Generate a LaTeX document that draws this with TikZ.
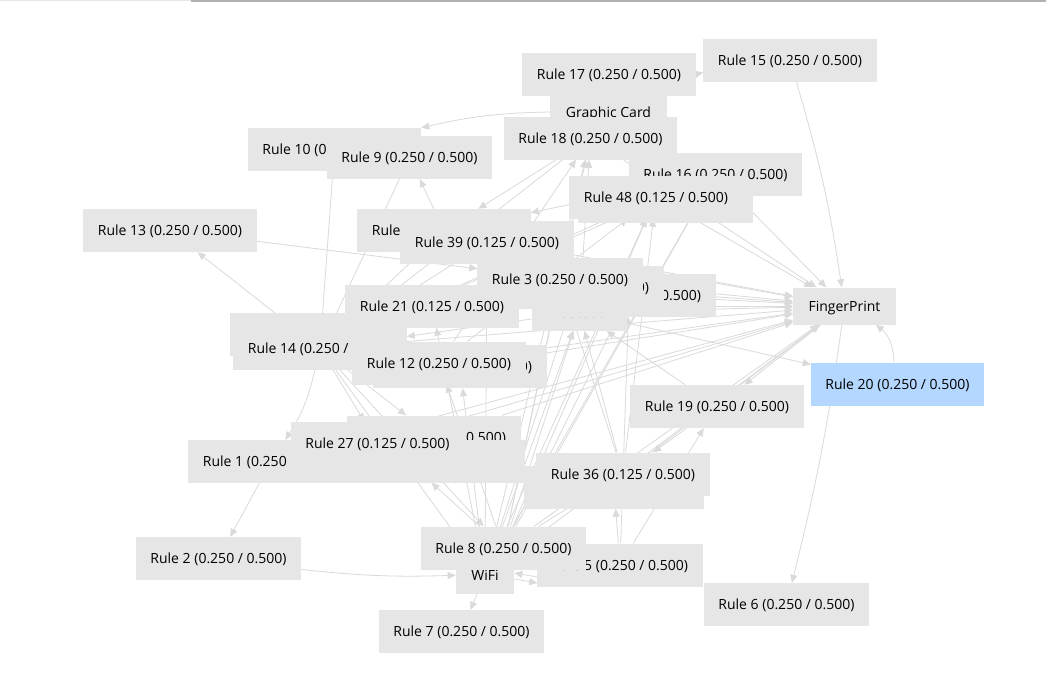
\documentclass[tikz,border=0pt]{standalone}
\usepackage{fontspec}
\setmainfont{Open Sans}
\usetikzlibrary{arrows.meta}
\definecolor{boxc}{HTML}{E6E6E6}
\definecolor{edgec}{HTML}{DADADA}
\definecolor{selc}{HTML}{B3D7FF}
\definecolor{txt}{HTML}{000000}
\pgfdeclarelayer{bg}
\pgfdeclarelayer{edges}
\pgfsetlayers{bg,edges,main}
\tikzset{
  rule/.style={fill=boxc, inner xsep=14.5pt, inner ysep=0pt, minimum height=43pt,
    text height=10pt, text depth=0pt, font=\fontsize{14}{16}\selectfont, text=txt},
  dev/.style={rule, minimum height=37pt, inner xsep=15.5pt},
  sel/.style={rule, fill=selc},
  e/.style={draw=edgec, line width=0.8pt, -{Triangle[length=8pt,width=7pt,fill=edgec]}}
}
\begin{document}
\begin{tikzpicture}[x=1pt,y=-1pt]
\useasboundingbox (0,0) rectangle (1046,699);
\begin{pgfonlayer}{bg}
\fill[white] (0,0) rectangle (1046,699);
\draw[draw=boxc, line width=1.2pt] (0,0.6) -- (191,0.6);
\draw[draw=black!30, line width=1.5pt] (191,0.75) -- (1046,0.75);
\end{pgfonlayer}

% nodes, back to front
\node[rule] (r10) at (334.5,149.5) {Rule 10 (0.250 / 0.500)};
\node[rule] (r9) at (409.5,157.5) {Rule 9 (0.250 / 0.500)};
\node[dev] (gc) at (608.5,112) {Graphic Card};
\node[rule] (r17) at (609,74) {Rule 17 (0.250 / 0.500)};
\node[rule] (r18) at (590.5,138) {Rule 18 (0.250 / 0.500)};
\node[rule] (r15) at (790,60.5) {Rule 15 (0.250 / 0.500)};
\node[rule] (r16) at (715.5,174.5) {Rule 16 (0.250 / 0.500)};
\node[rule, minimum width=175pt] (r48x) at (665,201) {};
\node[rule] (r48) at (656,197) {Rule 48 (0.125 / 0.500)};
\node[rule] (r13) at (170,230.5) {Rule 13 (0.250 / 0.500)};
\node[rule] (r11) at (444,230.5) {Rule 11 (0.250 / 0.500)};
\node[rule] (r39) at (487,242.5) {Rule 39 (0.125 / 0.500)};
\node[dev] (bt) at (579.5,312.3) {Bluetooth};
\node[rule] (r40) at (629,295) {Rule 40 (0.125 / 0.500)};
\node[rule] (r38) at (577,287) {Rule 38 (0.125 / 0.500)};
\node[rule] (r3) at (560,279) {Rule 3 (0.250 / 0.500)};
\node[rule] (r21) at (432,306) {Rule 21 (0.125 / 0.500)};
\node[rule, minimum width=175pt] (r14x) at (317,334) {};
\node[rule] (r14) at (320,348.5) {Rule 14 (0.250 / 0.500)};
\node[rule] (r12x) at (460,366.5) {Rule 24 (0.125 / 0.500)};
\node[rule] (r12) at (439,363) {Rule 12 (0.250 / 0.500)};
\node[rule] (p27) at (434,437) {Rule 26 (0.125 / 0.500)};
\node[rule] (r1) at (271,461.5) {Rule 1 (0.250 / 0.500)};
\node[rule, minimum width=235pt] (q27) at (407.5,461) {};
\node[rule] (r27) at (377.5,443) {Rule 27 (0.125 / 0.500)};
\node[rule] (r19) at (717,406.5) {Rule 19 (0.250 / 0.500)};
\node[sel] (r20) at (897.5,384) {Rule 20 (0.250 / 0.500)};
\node[dev] (fp) at (844.5,306) {FingerPrint};
\node[rule, minimum width=180pt] (r36x) at (614,487) {};
\node[rule] (r36) at (623,474) {Rule 36 (0.125 / 0.500)};
\node[rule] (r5) at (620,565) {Rule 5 (0.250 / 0.500)};
\node[dev] (wifi) at (485,575) {WiFi};
\node[rule] (r8) at (503.5,548) {Rule 8 (0.250 / 0.500)};
\node[rule] (r6) at (786.5,604.5) {Rule 6 (0.250 / 0.500)};
\node[rule] (r7) at (461.5,631.5) {Rule 7 (0.250 / 0.500)};
\node[rule] (r2) at (218.5,558.5) {Rule 2 (0.250 / 0.500)};

\begin{pgfonlayer}{edges}
\draw[e] (gc) to[bend left=8] (r15);
\draw[e] (gc.west) to[bend right=6] (r10.north east);
\draw[e] (r15) to[bend left=4] (fp);
\draw[e] (fp) to[bend left=3] (r6);
\draw[e] (r20) to[bend right=25] (fp);
\draw[e] (r1) -- (r2);
\draw[e] (r2) to[bend right=4] (wifi);
\draw[e] (wifi) -- (r7);
\draw[e] ([yshift=-4pt]wifi.east) -- ([yshift=-18pt]r5.west);
\draw[e] ([yshift=-12pt]r5.west) -- ([yshift=2pt]wifi.east);
\draw[e] (r14) -- (r13);
\draw[e] (r13) -- (r3);
\draw[e] (r10) -- (r14);
\draw[e] (r11) -- (r9);
\draw[e] (bt) -- (r20);
\draw[e] (r19) -- (r36);
\draw[e] (fp) -- (r19);
\draw[e] (r5) -- (r19);
% into FingerPrint
\foreach \s in {r39,r3,r40,r38,bt,r21,r12,r12x,r27,p27,r8,wifi,r36,r48,r16,r18,r14,r11,r1}
  \draw[e] (\s) -- (fp);
% into Rule 14
\foreach \s in {r18,r39,r21,r3,bt,r12x,r48,r16,r11,r9}
  \draw[e] (\s) -- (r14);
% upward fans
\foreach \s in {wifi,r8,r36,r12}
  \draw[e] (\s) -- (r48);
\draw[e] (r8) -- (r16);
\draw[e] (wifi) -- (r16);
\foreach \s in {r8,wifi,r12,bt}
  \draw[e] (\s) -- (r18);
\draw[e] (r18) -- (r11);
\draw[e] (r16) -- (r11);
\draw[e] (r14) -- (p27);
\draw[e] (r14) -- (r27);
\draw[e] (r8) -- (q27);
\draw[e] (r5) -- (r36x);
\draw[e] (r8) -- (r36);
\draw[e] (wifi) -- (bt);
\draw[e] (r8) -- (bt);
\draw[e] (r8) -- (r3);
\draw[e] (wifi) -- (r21);
\draw[e] (r8) -- (r12);
\draw[e] (wifi) -- (r12x);
\draw[e] (r36) -- (bt);
\draw[e] (r14) to[bend left=10] (r1);
\draw[e] (r14) -- (wifi);
\draw[e] (r14) -- (r8);
\draw[e] (wifi) -- (r39);
\draw[e] (r8) -- (r40);
\draw[e] (wifi) -- (r38);
\draw[e] (r36) -- (r3);
\draw[e] (r19) -- (bt);
\draw[e] (r5) -- (r40);
\end{pgfonlayer}
\end{tikzpicture}
\end{document}
